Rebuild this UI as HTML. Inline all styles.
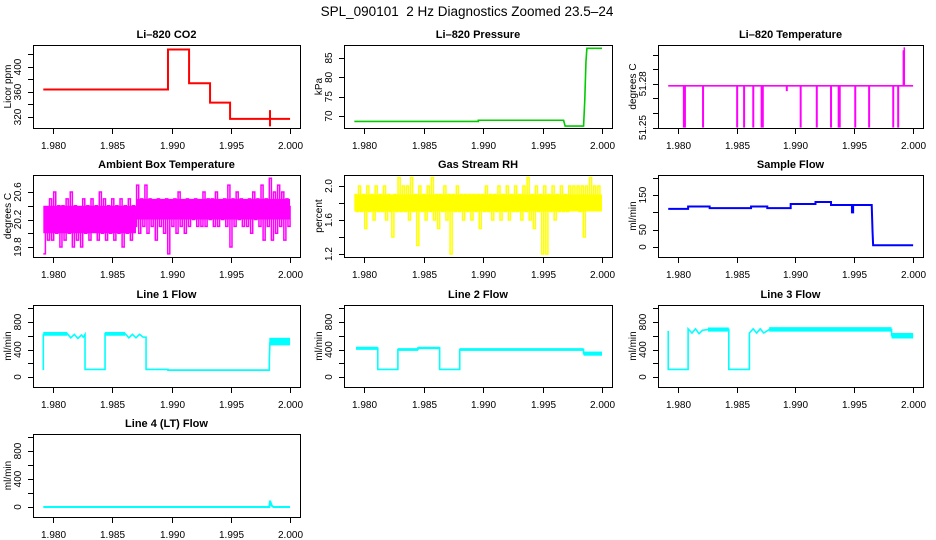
<!DOCTYPE html>
<html><head><meta charset="utf-8">
<style>
html,body{margin:0;padding:0;background:#fff;}
svg{display:block;font-family:"Liberation Sans",sans-serif;}
</style></head>
<body>
<svg id="fig" width="936" height="540" viewBox="0 0 936 540" xmlns="http://www.w3.org/2000/svg">
<text x="467" y="16" text-anchor="middle" font-size="13.5">SPL_090101&#160; 2 Hz Diagnostics Zoomed 23.5–24</text>
</svg>
<script>
// ---------- data ----------
const xTicks = [1.980, 1.985, 1.990, 1.995, 2.000];
const xTickLabels = ["1.980", "1.985", "1.990", "1.995", "2.000"];

const co2Times = [1.97918, 1.98970, 1.98970, 1.99148, 1.99148, 1.99325, 1.99325, 1.99494, 1.99494, 2.0];
const co2Values = [364, 364, 428, 428, 374, 374, 343, 343, 317, 317];
const co2SpikeTimes = [1.99831];
const co2SpikeLo = [305];
const co2SpikeHi = [331];

const presTimes = [1.97918, 1.9896, 1.9896, 1.99677, 1.99690, 1.99845, 1.99855, 1.99865, 1.99873, 2.0];
const presValues = [68.6, 68.6, 68.9, 68.9, 67.4, 67.4, 74, 84, 87.5, 87.5];

const tempTimes = [1.97918, 2.0];
const tempBase = [51.2786, 51.2786];
const tempDipTimes = [1.98051, 1.98060, 1.98214, 1.98504, 1.98563, 1.98641, 1.98712, 1.98722, 1.98926, 1.99044, 1.99181, 1.99302, 1.99367, 1.99376, 1.99508, 1.99626, 1.99831, 1.99873];
const tempDipValues = [51.25, 51.25, 51.25, 51.25, 51.25, 51.25, 51.25, 51.25, 51.275, 51.25, 51.25, 51.25, 51.25, 51.25, 51.25, 51.25, 51.25, 51.25];
const tempPeakTimes = [1.99917, 1.99925];
const tempPeakValues = [51.303, 51.305];

const ambStart = 1.97918, ambEnd = 2.0;
const ambValues = [19.7,20.3,19.9,20.5,19.9,20.6,20.0,20.4,19.8,20.4,19.9,20.5,20.0,20.6,19.8,20.4,19.9,20.3,19.8,20.5,20.0,20.4,19.9,20.5,20.1,20.4,19.9,20.6,20.0,20.5,19.9,20.4,20.0,20.5,19.9,20.4,20.0,20.5,19.8,20.4,
20.0,20.5,19.9,20.4,20.1,20.7,20.0,20.5,20.1,20.7,20.0,20.5,20.1,20.4,19.9,20.5,20.1,20.4,20.0,20.5,19.7,20.4,20.1,20.5,20.0,20.6,20.1,20.4,20.0,20.5,20.1,20.4,20.2,20.5,20.1,20.4,20.1,20.6,20.1,20.5,
20.2,20.5,20.1,20.6,20.1,20.4,20.2,20.5,20.1,20.7,19.8,20.5,20.1,20.6,20.2,20.5,20.1,20.4,20.1,20.5,20.0,20.6,20.2,20.5,20.1,20.7,19.9,20.5,20.1,20.8,19.9,20.6,20.0,20.7,20.1,20.6,19.9,20.5,20.1,20.4];
const ambBandStart = [1.97918, 1.987];
const ambBandEnd = [1.987, 2.0];
const ambBandLo = [20.0, 20.2];
const ambBandHi = [20.4, 20.5];

const rhStart = 1.97918, rhEnd = 2.0;
const rhValues = [1.9,1.7,2.0,1.7,1.9,1.5,2.0,1.7,1.9,1.6,2.0,1.7,1.9,1.7,2.0,1.6,1.9,1.7,1.4,1.9,1.7,2.1,1.7,2.0,1.7,2.0,1.6,2.1,1.7,1.9,1.3,2.0,1.7,1.9,1.6,2.0,1.7,2.1,1.6,1.9,1.5,1.9,1.7,2.0,1.6,1.9,1.2,1.9,1.7,2.0,1.7,1.9,1.6,1.9,1.7,1.9,1.6,1.9,1.7,1.9,1.5,1.9,1.7,2.0,1.7,1.9,1.6,1.9,1.7,2.0,1.6,1.9,1.7,2.0,1.6,1.9,1.7,2.0,1.7,1.9,1.6,2.0,1.7,2.1,1.6,1.9,1.5,2.0,1.7,1.9,1.2,2.0,1.2,1.9,1.7,2.0,1.6,1.9,1.7,2.0,1.7,1.9,1.7,2.0,1.8,2.0,1.8,2.0,1.7,2.0,1.4,2.0,1.8,2.1,1.8,2.0,1.8,2.0,1.8,1.8];
const rhBandStart = [1.97918];
const rhBandEnd = [2.0];
const rhBandLo = [1.7];
const rhBandHi = [1.9];

const sfTimes = [1.97918,1.98087,1.98087,1.9827,1.9827,1.98622,1.98622,1.9876,1.9876,1.98959,1.98959,1.9917,1.9917,1.99302,1.99302,1.9948,1.9948,1.9949,1.9949,1.99648,1.99655,1.9966,2.0];
const sfValues = [110,110,117,117,112,112,117,117,112,112,124,124,130,130,121,121,100,100,121,121,45,5,5];

const l1Times = [1.97918,1.97918,1.9812,1.9815,1.9818,1.9821,1.9824,1.98255,1.9827,1.9827,1.98439,1.98439,1.98608,1.9864,1.9867,1.9870,1.9873,1.9876,1.98785,1.98785,1.9897,1.9897,1.99825,1.99825,1.9983,2.0];
const l1Values = [100,620,630,570,620,560,610,580,620,110,110,630,630,570,620,570,620,580,580,110,110,100,100,240,500,500];
const l1BandStart = [1.97918, 1.98439, 1.99825, 1.9897];
const l1BandEnd = [1.9812, 1.98608, 2.0, 1.99825];
const l1BandLo = [600, 600, 460, 92];
const l1BandHi = [655, 655, 570, 112];

const l2Times = [1.97932,1.98115,1.98115,1.98284,1.98284,1.98453,1.98453,1.98635,1.98635,1.98804,1.98804,1.99845,1.99845,2.0];
const l2Values = [420,420,110,110,400,400,425,425,110,110,400,400,340,340];
const l2BandStart = [1.97932, 1.98284, 1.98453, 1.98804, 1.99845];
const l2BandEnd = [1.98115, 1.98453, 1.98635, 1.99845, 2.0];
const l2BandLo = [395, 380, 405, 380, 310];
const l2BandHi = [440, 420, 440, 420, 370];

const l3Times = [1.97918,1.97918,1.98087,1.98087,1.9812,1.9815,1.9818,1.9821,1.98256,1.98433,1.98433,1.98608,1.98608,1.9864,1.9867,1.9870,1.9873,1.98776,1.99817,1.99817,2.0];
const l3Values = [670,110,110,700,640,700,630,680,690,690,110,110,640,700,640,700,640,690,690,600,600];
const l3BandStart = [1.98256, 1.98776, 1.99817];
const l3BandEnd = [1.98433, 1.99817, 2.0];
const l3BandLo = [660, 660, 560];
const l3BandHi = [720, 725, 640];

const l4Times = [1.97918,1.99825,1.99831,1.99845,1.9986,2.0];
const l4Values = [0,0,90,20,0,0];

// ---------- layout ----------
const NS = "http://www.w3.org/2000/svg";
const svg = document.getElementById("fig");
const XMIN = 1.97831, XMAX = 2.00084;
const colX = [[33, 300], [344, 612], [658, 923]];
const rowY = [[45, 128], [175, 257], [305, 387], [434, 517]];

function mk(tag, attrs, parent) {
  const e = document.createElementNS(NS, tag);
  for (const k in attrs) e.setAttribute(k, attrs[k]);
  (parent || svg).appendChild(e);
  return e;
}

function panel(opt) {
  const [L, R] = colX[opt.col], [T, B] = rowY[opt.row];
  const g = mk("g", {});
  
  
  const sx = v => L + (v - XMIN) / (XMAX - XMIN) * (R - L);
  const sy = v => B - (v - opt.ymin) / (opt.ymax - opt.ymin) * (B - T);
  const clipId = "clip-" + opt.name;
  const cp = mk("clipPath", {id: clipId}, g);
  mk("rect", {x: L, y: T, width: R - L, height: B - T}, cp);
  const plot = mk("g", {"clip-path": "url(#" + clipId + ")"}, g);
  
  
  opt.draw(plot, sx, sy);
  const box = mk("rect", {x: L + 0.5, y: T + 0.5, width: R - L, height: B - T, fill: "none", stroke: "#000", "stroke-width": 1}, g);
  
  
  const t = mk("text", {x: (L + R) / 2, y: T - 7, "text-anchor": "middle", "font-size": 11, "font-weight": "bold"}, g);
  t.textContent = opt.title;
  
  
  const xa = mk("g", {}, g);
  
  
  mk("line", {x1: sx(xTicks[0]), x2: sx(xTicks[xTicks.length - 1]), y1: B + 0.5, y2: B + 0.5, stroke: "#000"}, xa);
  xTicks.forEach((v, i) => {
    const x = Math.round(sx(v)) + 0.5;
    mk("line", {x1: x, x2: x, y1: B, y2: B + 6, stroke: "#000"}, xa);
    const lb = mk("text", {x: x, y: B + 21, "text-anchor": "middle", "font-size": 10}, xa);
    lb.textContent = xTickLabels[i];
    
    
  });
  const ya = mk("g", {}, g);
  
  
  const yt = opt.yTicks;
  mk("line", {x1: L + 0.5, x2: L + 0.5, y1: sy(yt[0]), y2: sy(yt[yt.length - 1]), stroke: "#000"}, ya);
  yt.forEach(v => {
    const y = Math.round(sy(v)) + 0.5;
    mk("line", {x1: L - 5, x2: L, y1: y, y2: y, stroke: "#000"}, ya);
  });
  opt.yLabels.forEach((lab, i) => {
    const y = sy(opt.yLabelVals[i]);
    const lb = mk("text", {x: L - 12, y: y, "text-anchor": "middle", "font-size": 10, transform: "rotate(-90 " + (L - 12) + " " + y + ")"}, ya);
    lb.textContent = lab;
    
    
  });
  const yl = mk("text", {x: L - 22, y: (T + B) / 2, "text-anchor": "middle", "font-size": 10, transform: "rotate(-90 " + (L - 22) + " " + ((T + B) / 2) + ")"}, ya);
  yl.textContent = opt.ylab;
  
  
}

function poly(parent, xs, ys, sx, sy, color, w, name) {
  const pts = xs.map((t, i) => sx(t).toFixed(2) + "," + sy(ys[i]).toFixed(2)).join(" ");
  const p = mk("polyline", {points: pts, fill: "none", stroke: color, "stroke-width": w, "stroke-linejoin": "miter"}, parent);
  
  
}
function bands(parent, s, e, lo, hi, sx, sy, color, name) {
  s.forEach((t, i) => {
    const r = mk("rect", {x: sx(t), width: sx(e[i]) - sx(t), y: sy(hi[i]), height: sy(lo[i]) - sy(hi[i]), fill: color}, parent);
    
    
  });
}
function vlines(parent, ts, base, vals, sx, sy, color, w, name) {
  ts.forEach((t, i) => {
    const l = mk("line", {x1: sx(t), x2: sx(t), y1: sy(base[i]), y2: sy(vals[i]), stroke: color, "stroke-width": w}, parent);
    
    
  });
}
function evenTimes(n, a, b) { const r = []; for (let i = 0; i < n; i++) r.push(a + (b - a) * i / (n - 1)); return r; }

const flowTicks = [0, 200, 400, 600, 800, 1000];
const flowLabels = ["0", "400", "800"];
const flowLabelVals = [0, 400, 800];

panel({name: "co2", title: "Li–820 CO2", ylab: "Licor ppm", col: 0, row: 0, ymin: 302.4, ymax: 435.2,
  yTicks: [320, 340, 360, 380, 400, 420], yLabels: ["320", "360", "400"], yLabelVals: [320, 360, 400],
  draw: (g, sx, sy) => {
    poly(g, co2Times, co2Values, sx, sy, "#ff0000", 2, "co2-line");
    vlines(g, co2SpikeTimes, co2SpikeLo, co2SpikeHi, sx, sy, "#ff0000", 2, "co2-spike");
  }});

panel({name: "pressure", title: "Li–820 Pressure", ylab: "kPa", col: 1, row: 0, ymin: 66.9, ymax: 88.36,
  yTicks: [70, 75, 80, 85], yLabels: ["70", "75", "80", "85"], yLabelVals: [70, 75, 80, 85],
  draw: (g, sx, sy) => { poly(g, presTimes, presValues, sx, sy, "#00cc00", 1.6, "pressure-line"); }});

panel({name: "li820-temp", title: "Li–820 Temperature", ylab: "degrees C", col: 2, row: 0, ymin: 51.2497, ymax: 51.3066,
  yTicks: [51.25, 51.26, 51.27, 51.28, 51.29, 51.30], yLabels: ["51.25", "51.28"], yLabelVals: [51.25, 51.28],
  draw: (g, sx, sy) => {
    poly(g, tempTimes, tempBase, sx, sy, "#ff00ff", 1.6, "temp-line");
    vlines(g, tempDipTimes, tempDipTimes.map(() => tempBase[0]), tempDipValues, sx, sy, "#ff00ff", 2, "temp-dip");
    vlines(g, tempPeakTimes, tempPeakTimes.map(() => tempBase[0]), tempPeakValues, sx, sy, "#ff00ff", 1.5, "temp-peak");
  }});

panel({name: "ambient-temp", title: "Ambient Box Temperature", ylab: "degrees C", col: 0, row: 1, ymin: 19.655, ymax: 20.847,
  yTicks: [19.8, 20.0, 20.2, 20.4, 20.6], yLabels: ["19.8", "20.2", "20.6"], yLabelVals: [19.8, 20.2, 20.6],
  draw: (g, sx, sy) => {
    bands(g, ambBandStart, ambBandEnd, ambBandLo, ambBandHi, sx, sy, "#ff00ff", "ambient-band");
    const ts = evenTimes(ambValues.length, ambStart, ambEnd);
    const st = [], sv = [];
    ts.forEach((t, i) => { st.push(t); sv.push(ambValues[i]); if (i < ts.length - 1) { st.push(ts[i + 1]); sv.push(ambValues[i]); } });
    poly(g, st, sv, sx, sy, "#ff00ff", 1.5, "ambient-line");
  }});

panel({name: "rh", title: "Gas Stream RH", ylab: "percent", col: 1, row: 1, ymin: 1.165, ymax: 2.129,
  yTicks: [1.2, 1.4, 1.6, 1.8, 2.0], yLabels: ["1.2", "1.6", "2.0"], yLabelVals: [1.2, 1.6, 2.0],
  draw: (g, sx, sy) => {
    bands(g, rhBandStart, rhBandEnd, rhBandLo, rhBandHi, sx, sy, "#ffff00", "rh-band");
    const ts = evenTimes(rhValues.length, rhStart, rhEnd);
    const st = [], sv = [];
    ts.forEach((t, i) => { st.push(t); sv.push(rhValues[i]); if (i < ts.length - 1) { st.push(ts[i + 1]); sv.push(rhValues[i]); } });
    poly(g, st, sv, sx, sy, "#ffff00", 1.5, "rh-line");
  }});

panel({name: "sample-flow", title: "Sample Flow", ylab: "ml/min", col: 2, row: 1, ymin: -28.8, ymax: 207.7,
  yTicks: [0, 50, 100, 150, 200], yLabels: ["0", "50", "150"], yLabelVals: [0, 50, 150],
  draw: (g, sx, sy) => { poly(g, sfTimes, sfValues, sx, sy, "#0000ff", 2, "sample-flow-line"); }});

panel({name: "line1-flow", title: "Line 1 Flow", ylab: "ml/min", col: 0, row: 2, ymin: -145, ymax: 1047,
  yTicks: flowTicks, yLabels: flowLabels, yLabelVals: flowLabelVals,
  draw: (g, sx, sy) => {
    bands(g, l1BandStart, l1BandEnd, l1BandLo, l1BandHi, sx, sy, "#00ffff", "line1-band");
    poly(g, l1Times, l1Values, sx, sy, "#00ffff", 1.6, "line1-line");
  }});

panel({name: "line2-flow", title: "Line 2 Flow", ylab: "ml/min", col: 1, row: 2, ymin: -145, ymax: 1047,
  yTicks: flowTicks, yLabels: flowLabels, yLabelVals: flowLabelVals,
  draw: (g, sx, sy) => {
    bands(g, l2BandStart, l2BandEnd, l2BandLo, l2BandHi, sx, sy, "#00ffff", "line2-band");
    poly(g, l2Times, l2Values, sx, sy, "#00ffff", 1.6, "line2-line");
  }});

panel({name: "line3-flow", title: "Line 3 Flow", ylab: "ml/min", col: 2, row: 2, ymin: -145, ymax: 1047,
  yTicks: flowTicks, yLabels: flowLabels, yLabelVals: flowLabelVals,
  draw: (g, sx, sy) => {
    bands(g, l3BandStart, l3BandEnd, l3BandLo, l3BandHi, sx, sy, "#00ffff", "line3-band");
    poly(g, l3Times, l3Values, sx, sy, "#00ffff", 1.6, "line3-line");
  }});

panel({name: "line4-flow", title: "Line 4 (LT) Flow", ylab: "ml/min", col: 0, row: 3, ymin: -143, ymax: 1043,
  yTicks: flowTicks, yLabels: flowLabels, yLabelVals: flowLabelVals,
  draw: (g, sx, sy) => { poly(g, l4Times, l4Values, sx, sy, "#00ffff", 2, "line4-line"); }});
</script>
</body></html>
